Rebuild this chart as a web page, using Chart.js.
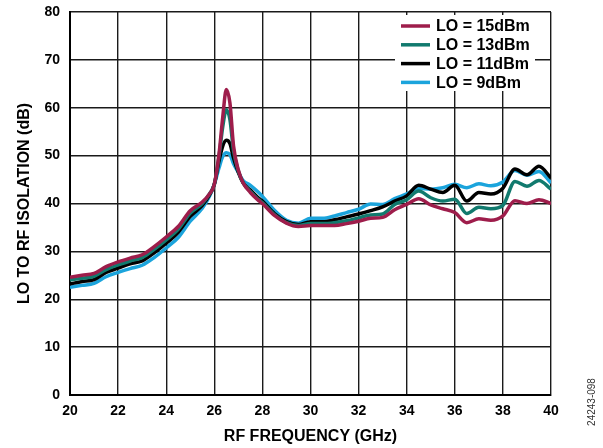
<!DOCTYPE html>
<html>
<head>
<meta charset="utf-8">
<script src="https://cdn.jsdelivr.net/npm/chart.js@4.4.1/dist/chart.umd.min.js"></script>
<style>
  html, body { margin: 0; padding: 0; background: #fff; }
  #wrap { width: 603px; height: 448px; }
</style>
</head>
<body>
<div id="wrap"><canvas id="iso" width="603" height="448"></canvas></div>
<script>
// RF frequency (GHz), shared by all four traces
const freqGHz = [20, 20.5, 21, 21.5, 22, 22.5, 23, 23.5, 24, 24.5, 25, 25.5, 25.8, 26, 26.2, 26.35, 26.5, 26.65, 26.8, 27, 27.2, 27.5, 27.8, 28, 28.5, 29, 29.5, 30, 30.5, 31, 31.5, 32, 32.5, 33, 33.5, 34, 34.5, 35, 35.5, 36, 36.5, 37, 37.5, 38, 38.5, 39, 39.5, 40];

// LO to RF isolation (dB)
const lo15 = [24.6, 25.0, 25.4, 26.8, 27.8, 28.6, 29.3, 31.0, 33.0, 35.2, 38.5, 40.3, 42.0, 44.0, 50.5, 58.0, 63.8, 61.0, 52.0, 47.0, 44.3, 42.3, 40.8, 40.0, 37.5, 35.9, 35.2, 35.4, 35.4, 35.4, 35.8, 36.3, 36.9, 37.1, 38.7, 39.8, 41.0, 39.7, 38.9, 38.1, 36.0, 36.8, 36.5, 37.4, 40.6, 40.0, 40.8, 40.0];
const lo13 = [24.0, 24.4, 24.8, 26.2, 27.2, 28.0, 28.7, 30.4, 32.4, 34.6, 38.0, 40.0, 42.0, 44.0, 50.0, 56.0, 59.6, 57.5, 51.0, 46.8, 44.3, 42.5, 41.0, 40.2, 37.7, 36.0, 35.4, 35.8, 35.8, 36.0, 36.4, 37.0, 37.6, 37.8, 39.8, 40.8, 42.6, 41.2, 40.5, 40.9, 37.9, 39.2, 38.9, 39.6, 44.6, 43.6, 44.8, 43.0];
const lo11 = [23.2, 23.7, 24.1, 25.6, 26.5, 27.4, 28.0, 29.7, 31.7, 34.0, 37.3, 39.6, 41.8, 44.0, 49.0, 52.0, 53.2, 52.5, 49.5, 46.5, 44.3, 42.8, 41.3, 40.5, 37.9, 36.2, 35.6, 36.2, 36.2, 36.6, 37.2, 37.8, 38.5, 39.3, 40.5, 41.6, 43.8, 43.0, 42.3, 43.8, 40.5, 42.3, 42.0, 43.2, 47.2, 46.0, 47.8, 45.3];
const lo9 = [22.5, 22.9, 23.3, 24.7, 25.6, 26.4, 27.1, 28.7, 30.7, 32.9, 36.3, 39.0, 41.5, 44.0, 47.5, 49.8, 50.6, 50.2, 48.3, 46.5, 44.8, 43.8, 42.5, 41.5, 38.6, 36.5, 35.9, 36.9, 36.9, 37.4, 38.1, 38.8, 39.9, 39.8, 41.0, 42.0, 43.2, 43.0, 43.3, 44.0, 43.3, 44.1, 43.7, 44.5, 46.9, 45.9, 46.7, 44.3];

const seriesLabels = ['LO = 15dBm', 'LO = 13dBm', 'LO = 11dBm', 'LO = 9dBm'];
const seriesColors = ['#9e1d4b', '#117a6e', '#000000', '#1ba4dc'];
const seriesValues = [lo15, lo13, lo11, lo9];

const FONT = '"Liberation Sans", Arial, Helvetica, sans-serif';

// legend sits inside the plot, on a white box
const insideLegend = {
  id: 'insideLegend',
  afterDraw(chart) {
    const ctx = chart.ctx;
    ctx.save();
    ctx.fillStyle = '#fff';
    ctx.fillRect(395, 15, 140, 76);
    ctx.font = 'bold 16px ' + FONT;
    ctx.textBaseline = 'middle';
    chart.data.datasets.forEach((ds, i) => {
      const y = 26 + i * 18.8;
      ctx.strokeStyle = ds.borderColor;
      ctx.lineWidth = 3.5;
      ctx.beginPath();
      ctx.moveTo(401, y);
      ctx.lineTo(430, y);
      ctx.stroke();
      ctx.fillStyle = '#000';
      ctx.fillText(ds.label, 436, y + 1);
    });
    // figure number down the right edge
    ctx.translate(592, 402);
    ctx.rotate(-Math.PI / 2);
    ctx.font = '10px ' + FONT;
    ctx.fillStyle = '#333';
    ctx.textAlign = 'center';
    ctx.fillText('24243-098', 0, 0);
    ctx.restore();
  }
};

new Chart(document.getElementById('iso'), {
  type: 'line',
  data: {
    datasets: seriesValues.map((vals, i) => ({
      label: seriesLabels[i],
      data: vals.map((v, j) => ({ x: freqGHz[j], y: v })),
      borderColor: seriesColors[i],
      backgroundColor: seriesColors[i],
      borderWidth: 3.5,
      pointRadius: 0,
      cubicInterpolationMode: 'monotone',
      fill: false
    }))
  },
  options: {
    responsive: false,
    animation: false,
    devicePixelRatio: 1,
    layout: { padding: { left: 0, right: 52, top: 12, bottom: 0 } },
    plugins: { legend: { display: false }, tooltip: { enabled: false } },
    scales: {
      x: {
        type: 'linear',
        min: 20,
        max: 40,
        afterFit(scale) {
          scale.height = 53;
          scale.paddingLeft = 0;
          scale.paddingRight = 0;
        },
        ticks: { stepSize: 2, padding: 8, color: '#000', font: { family: FONT, size: 14, weight: 'bold' } },
        grid: { color: '#1a1a1a', lineWidth: 1.4, drawTicks: false },
        border: { color: '#000', width: 2 },
        title: {
          display: true,
          text: 'RF FREQUENCY (GHz)',
          color: '#000',
          font: { family: FONT, size: 16, weight: 'bold' },
          padding: { top: 0, bottom: 2 }
        }
      },
      y: {
        min: 0,
        max: 80,
        afterFit(scale) {
          scale.width = 70;
          scale.paddingTop = 0;
          scale.paddingBottom = 0;
        },
        ticks: { stepSize: 10, padding: 10, color: '#000', font: { family: FONT, size: 14, weight: 'bold' } },
        grid: { color: '#1a1a1a', lineWidth: 1.4, drawTicks: false },
        border: { color: '#000', width: 2 },
        title: {
          display: true,
          text: 'LO TO RF ISOLATION (dB)',
          color: '#000',
          font: { family: FONT, size: 16, weight: 'bold' },
          padding: { top: 15, bottom: 0 }
        }
      }
    }
  },
  plugins: [insideLegend]
});
</script>
</body>
</html>
